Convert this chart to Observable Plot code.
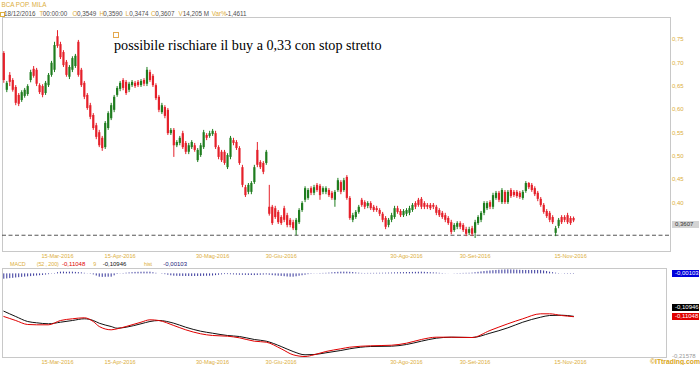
<!DOCTYPE html>
<html lang="it">
<head>
<meta charset="utf-8">
<script src="https://cdn.jsdelivr.net/npm/d3@7"></script>
<script src="https://cdn.jsdelivr.net/npm/@observablehq/plot@0.6"></script>
<style>
  html,body{margin:0;padding:0;background:#fff;}
  #root{position:relative;width:700px;height:365px;overflow:hidden;background:#fff;font-family:"Liberation Sans",Arial,sans-serif;}
  .t{position:absolute;white-space:nowrap;font-size:6.3px;line-height:7px;color:#555;}
  .y{color:#dcae3c;}
  .box{position:absolute;box-sizing:border-box;width:27px;padding-left:3px;font-size:6px;white-space:nowrap;}
</style>
</head>
<body>
<div id="root"></div>
<script>
// ---------------- DATA ----------------
const openP = [
0.720,0.641,0.673,0.662,0.647,0.630,0.619,0.628,0.632,0.662,
0.686,0.684,0.651,0.649,0.634,0.651,0.673,0.684,0.756,0.739,
0.722,0.701,0.669,0.684,0.692,0.744,0.684,0.656,0.630,0.608,
0.587,0.565,0.550,0.538,0.518,0.559,0.580,0.598,0.630,0.643,
0.662,0.658,0.641,0.651,0.656,0.658,0.651,0.662,0.654,0.679,
0.671,0.651,0.626,0.593,0.604,0.598,0.548,0.555,0.522,0.527,
0.548,0.527,0.508,0.518,0.522,0.490,0.501,0.518,0.544,0.542,
0.546,0.548,0.518,0.508,0.508,0.475,0.497,0.533,0.529,0.516,
0.475,0.432,0.422,0.422,0.443,0.512,0.486,0.484,0.484,0.390,
0.390,0.387,0.379,0.368,0.387,0.372,0.362,0.357,0.340,0.357,
0.383,0.405,0.409,0.430,0.420,0.437,0.435,0.422,0.422,0.426,
0.420,0.405,0.426,0.443,0.426,0.454,0.409,0.362,0.368,0.379,
0.405,0.400,0.392,0.398,0.390,0.387,0.383,0.375,0.366,0.351,
0.362,0.368,0.387,0.381,0.372,0.375,0.377,0.383,0.398,0.405,
0.407,0.398,0.394,0.394,0.394,0.390,0.383,0.377,0.372,0.366,
0.357,0.340,0.347,0.355,0.351,0.342,0.334,0.344,0.334,0.355,
0.362,0.377,0.387,0.400,0.390,0.409,0.420,0.400,0.422,0.400,
0.426,0.422,0.422,0.420,0.409,0.424,0.441,0.437,0.430,0.420,
0.407,0.394,0.381,0.377,0.368,0.334,0.349,0.368,0.368,0.372,
0.366,0.366];
const closeP = [
0.662,0.656,0.658,0.641,0.613,0.611,0.636,0.641,0.649,0.679,
0.671,0.654,0.636,0.630,0.656,0.673,0.699,0.737,0.735,0.711,
0.694,0.673,0.690,0.709,0.714,0.673,0.651,0.626,0.602,0.583,
0.559,0.540,0.522,0.516,0.570,0.591,0.608,0.626,0.645,0.656,
0.645,0.634,0.654,0.658,0.649,0.651,0.660,0.654,0.684,0.662,
0.651,0.623,0.598,0.608,0.585,0.548,0.555,0.522,0.529,0.538,
0.518,0.508,0.522,0.529,0.512,0.512,0.522,0.550,0.538,0.548,
0.553,0.518,0.497,0.490,0.484,0.501,0.538,0.527,0.516,0.484,
0.437,0.415,0.437,0.441,0.475,0.480,0.475,0.465,0.508,0.375,
0.355,0.368,0.357,0.355,0.362,0.351,0.351,0.344,0.362,0.383,
0.398,0.430,0.426,0.420,0.432,0.426,0.415,0.430,0.430,0.415,
0.409,0.422,0.447,0.422,0.447,0.409,0.366,0.372,0.379,0.390,
0.394,0.390,0.398,0.387,0.383,0.383,0.375,0.362,0.347,0.362,
0.372,0.387,0.379,0.372,0.381,0.383,0.387,0.394,0.390,0.394,
0.390,0.390,0.390,0.387,0.390,0.377,0.372,0.368,0.362,0.355,
0.336,0.351,0.355,0.347,0.340,0.332,0.342,0.332,0.357,0.368,
0.377,0.398,0.398,0.390,0.415,0.420,0.405,0.426,0.400,0.422,
0.413,0.415,0.413,0.411,0.422,0.441,0.432,0.426,0.417,0.407,
0.394,0.379,0.370,0.362,0.357,0.344,0.362,0.357,0.362,0.357,
0.355,0.3607];
const highP = [
0.724,0.660,0.679,0.666,0.651,0.634,0.640,0.645,0.653,0.684,
0.692,0.688,0.655,0.653,0.660,0.677,0.703,0.744,0.769,0.744,
0.726,0.705,0.694,0.713,0.718,0.748,0.688,0.660,0.634,0.613,
0.591,0.570,0.555,0.542,0.574,0.595,0.613,0.630,0.649,0.660,
0.666,0.662,0.658,0.662,0.660,0.662,0.664,0.666,0.690,0.684,
0.675,0.655,0.630,0.613,0.608,0.602,0.559,0.559,0.533,0.542,
0.553,0.531,0.527,0.533,0.527,0.516,0.527,0.555,0.548,0.553,
0.557,0.553,0.522,0.512,0.512,0.505,0.542,0.538,0.533,0.520,
0.480,0.437,0.441,0.445,0.480,0.529,0.490,0.488,0.512,0.437,
0.394,0.392,0.383,0.372,0.392,0.377,0.366,0.362,0.366,0.387,
0.402,0.434,0.430,0.434,0.437,0.441,0.439,0.434,0.434,0.430,
0.424,0.426,0.452,0.447,0.452,0.458,0.413,0.377,0.383,0.394,
0.409,0.404,0.402,0.402,0.394,0.392,0.387,0.379,0.370,0.366,
0.377,0.392,0.392,0.385,0.385,0.387,0.392,0.398,0.402,0.409,
0.411,0.402,0.398,0.398,0.398,0.394,0.387,0.381,0.377,0.370,
0.362,0.355,0.359,0.359,0.355,0.347,0.347,0.349,0.362,0.372,
0.381,0.402,0.402,0.404,0.420,0.424,0.424,0.430,0.426,0.426,
0.430,0.426,0.426,0.424,0.426,0.445,0.443,0.441,0.434,0.424,
0.411,0.398,0.385,0.381,0.372,0.349,0.366,0.372,0.372,0.377,
0.370,0.369];
const lowP = [
0.656,0.636,0.649,0.637,0.608,0.606,0.615,0.624,0.628,0.657,
0.667,0.649,0.632,0.625,0.630,0.647,0.669,0.679,0.731,0.707,
0.690,0.669,0.664,0.679,0.688,0.669,0.647,0.621,0.598,0.578,
0.555,0.535,0.518,0.510,0.514,0.555,0.576,0.593,0.626,0.638,
0.640,0.630,0.636,0.647,0.645,0.647,0.647,0.649,0.649,0.658,
0.647,0.619,0.593,0.589,0.580,0.544,0.544,0.497,0.518,0.522,
0.514,0.503,0.503,0.514,0.508,0.486,0.497,0.514,0.533,0.538,
0.542,0.514,0.492,0.486,0.480,0.471,0.492,0.522,0.512,0.480,
0.432,0.411,0.417,0.417,0.439,0.475,0.471,0.460,0.480,0.371,
0.351,0.364,0.353,0.351,0.357,0.346,0.346,0.340,0.329,0.353,
0.379,0.400,0.405,0.415,0.415,0.422,0.405,0.417,0.417,0.411,
0.405,0.390,0.422,0.417,0.422,0.405,0.362,0.357,0.364,0.375,
0.390,0.385,0.387,0.383,0.379,0.379,0.370,0.357,0.342,0.346,
0.357,0.364,0.375,0.368,0.368,0.370,0.372,0.379,0.385,0.390,
0.385,0.385,0.385,0.383,0.385,0.372,0.368,0.364,0.357,0.351,
0.331,0.336,0.342,0.342,0.336,0.327,0.329,0.327,0.323,0.351,
0.357,0.372,0.383,0.385,0.385,0.405,0.400,0.396,0.396,0.396,
0.409,0.411,0.409,0.407,0.405,0.420,0.428,0.422,0.413,0.402,
0.390,0.375,0.366,0.357,0.353,0.327,0.344,0.353,0.357,0.353,
0.351,0.357];

// MACD (52,200) and signal (9), read at sample sessions
const macdIdx = [0,4,8,11,15,19,23,27,30,32,36,38,41,46,49,52,57,61,66,70,75,79,84,88,93,97,101,104,108,113,116,123,130,135,140,145,150,157,163,169,174,180,183,187,191];
const macdLine = [-0.1100,-0.1203,-0.1306,-0.1314,-0.1314,-0.1203,-0.1159,-0.1133,-0.1229,-0.1358,-0.1443,-0.1417,-0.1358,-0.1247,-0.1185,-0.1203,-0.1332,-0.1443,-0.1546,-0.1590,-0.1608,-0.1650,-0.1737,-0.1763,-0.1933,-0.2088,-0.2132,-0.2088,-0.2003,-0.1933,-0.1892,-0.1856,-0.1841,-0.1789,-0.1693,-0.1634,-0.1634,-0.1642,-0.1461,-0.1288,-0.1159,-0.1030,-0.1030,-0.1074,-0.11048];
const signalLine = [-0.0963,-0.1100,-0.1229,-0.1262,-0.1288,-0.1247,-0.1203,-0.1159,-0.1203,-0.1273,-0.1358,-0.1402,-0.1376,-0.1288,-0.1229,-0.1203,-0.1273,-0.1376,-0.1479,-0.1531,-0.1590,-0.1616,-0.1693,-0.1737,-0.1874,-0.2003,-0.2088,-0.2081,-0.2037,-0.1977,-0.1933,-0.1874,-0.1866,-0.1823,-0.1737,-0.1660,-0.1634,-0.1642,-0.1531,-0.1392,-0.1247,-0.1118,-0.1074,-0.1066,-0.10946];
const histValues = [
-0.0137,-0.0130,-0.0122,-0.0115,-0.0105,-0.0098,-0.0090,-0.0083,-0.0077,-0.0070,
-0.0062,-0.0055,-0.0048,-0.0040,-0.0030,-0.0020,-0.0008,0.0010,0.0030,0.0044,
0.0046,0.0040,0.0045,0.0044,0.0038,0.0032,0.0026,0.0015,0.0005,-0.0010,
-0.0026,-0.0055,-0.0085,-0.0090,-0.0088,-0.0086,-0.0085,-0.0050,-0.0015,-0.0005,
0.0010,0.0018,0.0025,0.0032,0.0038,0.0041,0.0042,0.0044,0.0044,0.0044,
0.0030,0.0015,0.0000,-0.0010,-0.0020,-0.0035,-0.0050,-0.0059,-0.0062,-0.0065,
-0.0066,-0.0067,-0.0067,-0.0068,-0.0067,-0.0067,-0.0066,-0.0063,-0.0061,-0.0059,
-0.0055,-0.0045,-0.0035,-0.0025,-0.0018,-0.0018,-0.0022,-0.0026,-0.0030,-0.0034,
-0.0036,-0.0038,-0.0040,-0.0042,-0.0044,-0.0040,-0.0035,-0.0030,-0.0026,-0.0035,
-0.0045,-0.0052,-0.0059,-0.0065,-0.0072,-0.0080,-0.0085,-0.0085,-0.0075,-0.0060,
-0.0048,-0.0035,-0.0020,-0.0010,-0.0005,0.0005,0.0010,0.0012,0.0015,0.0020,
0.0028,0.0035,0.0040,0.0044,0.0045,0.0044,0.0041,0.0035,0.0025,0.0018,
0.0012,0.0010,0.0012,0.0012,0.0013,0.0014,0.0015,0.0016,0.0018,0.0020,
0.0022,0.0025,0.0028,0.0030,0.0032,0.0034,0.0036,0.0038,0.0040,0.0042,
0.0044,0.0040,0.0035,0.0030,0.0026,0.0022,0.0015,0.0010,0.0005,0.0002,
0.0000,0.0005,0.0008,0.0010,0.0012,0.0014,0.0015,0.0020,0.0030,0.0040,
0.0050,0.0060,0.0068,0.0075,0.0082,0.0088,0.0094,0.0098,0.0102,0.0104,
0.0103,0.0100,0.0096,0.0092,0.0088,0.0088,0.0088,0.0088,0.0088,0.0088,
0.0085,0.0075,0.0060,0.0044,0.0030,0.0018,0.0008,-0.0002,-0.0008,-0.0009,
-0.0010,-0.00103];

const tickIdx = [18, 39, 70, 93, 135, 158, 190];
const tickLabels = ["15-Mar-2016","15-Apr-2016","30-Mag-2016","30-Giu-2016","30-Ago-2016","30-Set-2016","15-Nov-2016"];
const priceTicks = [0.40, 0.45, 0.50, 0.55, 0.60, 0.65, 0.70, 0.75];
const stopLevel = 0.33;
const lastPrice = 0.3607;
const macdBottom = -0.21578;
const symbol = "BCA POP. MILA";
const headerFields = [["", "18/12/2016"],["T","00:00:00"],["O","0,3549"],["H","0,3590"],["L","0,3474"],["C","0,3607"],["V","14,205 M"],["Var%","-1,4611"]];
const noteText = "possibile rischiare il buy a 0,33 con stop stretto";

// ---------------- COLOURS ----------------
const UP = "#1f7d1f", DOWN = "#e5202a", GOLD = "#dcae3c", FRAME = "#c8c8c8";

const candles = openP.map((o, i) => ({i, o, c: closeP[i], h: highP[i], l: lowP[i]}));
const up = candles.filter(d => d.c >= d.o);
const down = candles.filter(d => d.c < d.o);
const macdRows = macdIdx.map((i, k) => ({i, m: macdLine[k], s: signalLine[k]}));
const histRows = histValues.map((h, i) => ({i, h}));
const comma = (v, n) => v.toFixed(n).replace(".", ",");
const tickFmt = d => tickLabels[tickIdx.indexOf(d)];
const font = "Liberation Sans, Arial, sans-serif";

const root = document.getElementById("root");

// ---------------- MAIN PRICE PANEL ----------------
const main = Plot.plot({
  width: 700, height: 262,
  marginTop: 17, marginBottom: 11, marginLeft: 2, marginRight: 30,
  x: {type: "linear", domain: [-0.436, 223.5]},
  y: {type: "linear", domain: [0.2951, 0.7972]},
  style: {fontFamily: font, fontSize: "5.6px", background: "transparent", overflow: "visible"},
  marks: [
    Plot.frame({stroke: FRAME}),
    Plot.ruleY([stopLevel], {stroke: "#555", strokeWidth: 1, strokeDasharray: "4,2.5"}),
    Plot.ruleX(up, {x: "i", y1: "l", y2: "h", stroke: UP, strokeWidth: 1}),
    Plot.ruleX(down, {x: "i", y1: "l", y2: "h", stroke: DOWN, strokeWidth: 1}),
    Plot.ruleX(up, {x: "i", y1: "o", y2: "c", stroke: UP, strokeWidth: 2.2}),
    Plot.ruleX(down, {x: "i", y1: "o", y2: "c", stroke: DOWN, strokeWidth: 2.2}),
    Plot.axisY({anchor: "right", ticks: priceTicks, tickFormat: d => comma(d, 2), tickSize: 0, tickPadding: 1.5, color: GOLD, fontSize: 6, label: null}),
    Plot.axisX({anchor: "bottom", ticks: tickIdx, tickFormat: tickFmt, tickSize: 0, tickPadding: 3, color: GOLD, fontSize: 5.6, label: null})
  ]
});
main.style.position = "absolute"; main.style.left = "0px"; main.style.top = "0px";
root.appendChild(main);

// ---------------- MACD PANEL ----------------
const MACD_TOP = 262;
const macd = Plot.plot({
  width: 700, height: 103,
  marginTop: 6, marginBottom: 8, marginLeft: 2, marginRight: 34,
  x: {type: "linear", domain: [-0.436, 222.2]},
  y: {type: "linear", domain: [macdBottom, 0.0139], axis: null},
  style: {fontFamily: font, fontSize: "5.6px", background: "transparent", overflow: "visible"},
  marks: [
    Plot.frame({stroke: FRAME}),
    Plot.ruleX(histRows, {x: "i", y1: 0, y2: "h", stroke: "#34349a", strokeWidth: 1}),
    Plot.line(macdRows, {x: "i", y: "s", stroke: "#111", strokeWidth: 1, curve: "monotone-x"}),
    Plot.line(macdRows, {x: "i", y: "m", stroke: "#e00000", strokeWidth: 1, curve: "monotone-x"}),
    Plot.axisX({anchor: "bottom", ticks: tickIdx, tickFormat: tickFmt, tickSize: 0, tickPadding: 3, color: GOLD, fontSize: 5.6, label: null})
  ]
});
macd.style.position = "absolute"; macd.style.left = "0px"; macd.style.top = MACD_TOP + "px";
root.appendChild(macd);

// ---------------- TEXT OVERLAYS ----------------
function txt(text, left, top, cls, extra) {
  const d = document.createElement("div");
  d.className = "t " + (cls || "");
  d.textContent = text;
  d.style.left = left + "px"; d.style.top = top + "px";
  if (extra) Object.assign(d.style, extra);
  root.appendChild(d);
  return d;
}
function box(text, left, top, h, bg, fg) {
  const d = document.createElement("div");
  d.className = "box";
  d.textContent = text;
  Object.assign(d.style, {left: left + "px", top: top + "px", height: h + "px", lineHeight: h + "px", background: bg, color: fg});
  root.appendChild(d);
}

// header
txt(symbol, 1.5, 1.2, "y");
const icon = document.createElement("div");
Object.assign(icon.style, {position: "absolute", left: "0px", top: "11.5px", width: "2.5px", height: "3px", border: "0.5px solid " + GOLD});
root.appendChild(icon);
const headerX = [[0, 4], [39.5, 42.7], [72.5, 77], [99.5, 103.3], [125.5, 129.3], [151, 155.3], [178.5, 182.7], [211.7, 225.7]];
headerFields.forEach(([k, v], j) => {
  if (k) txt(k, headerX[j][0], 10.4, "y");
  txt(v, headerX[j][1], 10.4, "", {color: "#505050"});
});

// annotation
const mark = document.createElement("div");
Object.assign(mark.style, {position: "absolute", left: "113px", top: "32px", width: "3.5px", height: "3.5px", border: "1px solid #e4a84e"});
root.appendChild(mark);
const note = document.createElement("div");
note.textContent = noteText;
Object.assign(note.style, {position: "absolute", left: "114px", top: "38.2px", fontFamily: '"Liberation Serif","Times New Roman",serif', fontSize: "14.2px", lineHeight: "14.2px", color: "#000", whiteSpace: "nowrap"});
root.appendChild(note);

// last price label
const yMain = main.scale("y");
box(comma(lastPrice, 4), 672, yMain.apply(lastPrice) + 1, 7, "#d4d4d4", "#333");

// MACD legend line
const legendTop = 260.6;
const small = {fontSize: "5.4px", letterSpacing: "-0.1px"};
txt("MACD", 10, legendTop, "y", small);
txt("(52 , 200)", 36.7, legendTop, "y", small);
txt(comma(macdLine[macdLine.length - 1], 5), 62, legendTop, "", {color: "#e00000", fontSize: "6px"});
txt("9", 93.3, legendTop, "y", small);
txt(comma(signalLine[signalLine.length - 1], 5), 102.7, legendTop, "", {color: "#111", fontSize: "6px"});
txt("hist", 144, legendTop, "y", small);
txt(comma(histValues[histValues.length - 1], 5), 163.3, legendTop, "", {color: "#22227a", fontSize: "6px"});

// MACD right-hand value boxes
const yM = macd.scale("y");
const lastHist = histValues[histValues.length - 1];
const lastSig = signalLine[signalLine.length - 1];
const lastMacd = macdLine[macdLine.length - 1];
box(comma(lastHist, 5), 672, MACD_TOP + yM.apply(lastHist) - 3.8, 7, "#0000dc", "#fff");
box(comma(lastSig, 5), 672, MACD_TOP + yM.apply(lastSig) - 11.5, 7, "#000", "#fff");
box(comma(lastMacd, 5), 672, MACD_TOP + yM.apply(lastMacd) - 3.5, 7, "#e00000", "#fff");
txt(comma(macdBottom, 5), 672, MACD_TOP + yM.apply(macdBottom) - 4.5, "", {color: "#999", fontSize: "6px"});

// copyright
txt("\u00a9ITtrading.com", 650, 357.6, "", {color: "#d9a521", fontWeight: "bold", fontSize: "6.8px", lineHeight: "8px"});
</script>
</body>
</html>
